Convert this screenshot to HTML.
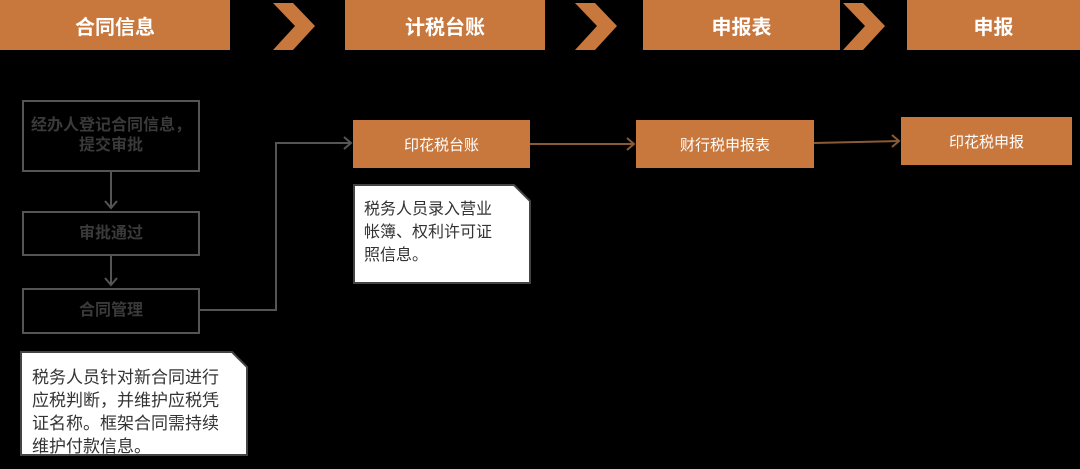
<!DOCTYPE html>
<html><head><meta charset="utf-8"><style>
body{margin:0;width:1080px;height:469px;background:#000;position:relative;overflow:hidden;font-family:"Liberation Sans","Noto Sans CJK SC",sans-serif}
.h{position:absolute;top:0;height:50px;background:#c8773d;color:#fff;font-weight:bold;font-size:20px;display:flex;align-items:center;justify-content:center}
.o{position:absolute;background:#c8773d;color:#fff;font-size:15px;display:flex;align-items:center;justify-content:center}
.g{position:absolute;border:2px solid #555;box-sizing:border-box;color:#3a3a3a;font-weight:bold;font-size:16px;display:flex;align-items:center;justify-content:center;text-align:center;line-height:20px}
.n{position:absolute;color:#333;white-space:nowrap}
</style></head><body>
<div class="h" style="left:0;width:230px">合同信息</div>
<div class="h" style="left:345px;width:200px">计税台账</div>
<div class="h" style="left:643px;width:197px">申报表</div>
<div class="h" style="left:907px;width:173px">申报</div>
<svg width="1080" height="469" style="position:absolute;left:0;top:0">
<g fill="#c8773d">
<polygon points="273,3 293,3 315,26 293,50 273,50 295,26"/>
<polygon points="575,3 595,3 617,26 595,50 575,50 597,26"/>
<polygon points="843,3 863,3 885,26 863,50 843,50 865,26"/>
</g>
<g stroke="#555" stroke-width="2" fill="none">
<line x1="111" y1="172" x2="111" y2="208"/><polyline points="105,201 111,208 117,201"/>
<line x1="111" y1="256" x2="111" y2="285"/><polyline points="105,278 111,285 117,278"/>
<polyline points="200,310 276,310 276,143 351,143"/><polyline points="344,137 351,143 344,149"/>
</g>
<g stroke="#8a5a35" stroke-width="2" fill="none">
<line x1="530" y1="144" x2="634" y2="144"/><polyline points="627,138 634,144 627,150"/>
<line x1="814" y1="143" x2="899" y2="141"/><polyline points="892,135 899,141 892,147"/>
</g>
<polygon points="21,352 232,352 247,367 247,455 21,455" fill="#fff" stroke="#444" stroke-width="2"/>
<polygon points="354,185 514,185 530,201 530,283 354,283" fill="#fff" stroke="#444" stroke-width="2"/>
</svg>
<div class="g" style="left:22px;top:100px;width:178px;height:72px">经办人登记合同信息，<br>提交审批</div>
<div class="g" style="left:22px;top:211px;width:178px;height:45px">审批通过</div>
<div class="g" style="left:22px;top:288px;width:178px;height:46px">合同管理</div>
<div class="n" style="left:32px;top:366px;font-size:17px;line-height:23px">税务人员针对新合同进行<br>应税判断，并维护应税凭<br>证名称。框架合同需持续<br>维护付款信息。</div>
<div class="o" style="left:353px;top:120px;width:177px;height:48px">印花税台账</div>
<div class="o" style="left:636px;top:120px;width:178px;height:48px">财行税申报表</div>
<div class="o" style="left:901px;top:117px;width:171px;height:48px">印花税申报</div>
<div class="n" style="left:364px;top:198px;font-size:16px;line-height:23px">税务人员录入营业<br>帐簿、权利许可证<br>照信息。</div>
</body></html>
